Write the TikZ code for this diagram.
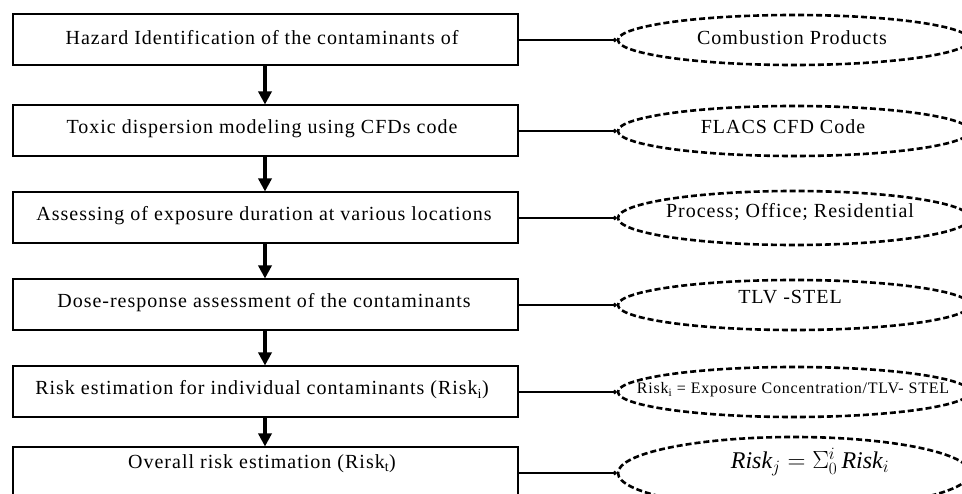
\documentclass[tikz,border=0pt]{standalone}
\usepackage{fontspec}
\setmainfont{Liberation Serif}
\newfontfamily\widefont[LetterSpace=5]{Liberation Serif}
\usetikzlibrary{arrows.meta,shapes.geometric}
\begin{document}
\begin{tikzpicture}[x=1pt,y=-1pt,
  stepbox/.style={draw,line width=2pt,minimum width=505pt,minimum height=51pt,inner sep=0pt},
  btext/.style={font=\widefont\fontsize{20}{22}\selectfont,inner sep=0pt},
  oval/.style={draw,ellipse,dashed,line width=2.6pt,dash pattern=on 6pt off 3pt,minimum width=352pt,minimum height=50pt,inner sep=0pt},
  otext/.style={font=\widefont\fontsize{20}{22}\selectfont,inner sep=0pt},
  flow/.style={line width=3.2pt,-{Triangle[length=13pt,width=13pt]}},
  link/.style={line width=2pt,-{Circle[length=4pt,width=4pt]}}
]
\useasboundingbox (0,0) rectangle (962,494);
% boxes
\node[stepbox] (b1) at (265,40) {};
\node[stepbox] (b2) at (265,131) {};
\node[stepbox] (b3) at (265,218) {};
\node[stepbox] (b4) at (265,305) {};
\node[stepbox] (b5) at (265,392) {};
\node[stepbox] (b6) at (265,473) {};
\node[btext] (t1) at (262,38) {Hazard Identification of the contaminants of};
\node[btext] (t2) at (262,129) {Toxic dispersion modeling using CFDs code};
\node[btext] (t3) at (264,216) {Assessing of exposure duration at various locations};
\node[btext] (t4) at (264,303) {Dose-response assessment of the contaminants};
\node[btext] (t5) at (262,390) {Risk estimation for individual contaminants (Risk\textsubscript{i})};
\node[btext] (t6) at (262,464) {Overall risk estimation (Risk\textsubscript{t})};
% ovals
\node[oval] (e1) at (794,40) {};
\node[oval] (e2) at (794,131) {};
\node[oval,minimum height=54pt] (e3) at (794,218) {};
\node[oval] (e4) at (794,305) {};
\node[oval] (e5) at (794,392) {};
\node[oval,minimum height=72pt] (e6) at (794,473) {};
\node[otext] (o1) at (792,38) {Combustion Products};
\node[otext] (o2) at (783,127) {FLACS CFD Code};
\node[otext] (o3) at (790,212) {Process; Office; Residential};
\node[otext] (o4) at (790,297) {TLV -STEL};
\node[otext,font=\widefont\fontsize{16}{18}\selectfont] (o5) at (793,390) {Risk\textsubscript{i} = Exposure Concentration/TLV- STEL};
\node[otext,font=\fontsize{24}{28}\selectfont] (o6) at (810,462) {$\mathit{Risk}_j = \Sigma_0^i\, \mathit{Risk}_i$};
% flow arrows
\draw[flow] (b1.south) -- (b2.north);
\draw[flow] (b2.south) -- (b3.north);
\draw[flow] (b3.south) -- (b4.north);
\draw[flow] (b4.south) -- (b5.north);
\draw[flow] (b5.south) -- (b6.north);
% links
\draw[link] (b1.east) -- (e1.west);
\draw[link] (b2.east) -- (e2.west);
\draw[link] (b3.east) -- (e3.west);
\draw[link] (b4.east) -- (e4.west);
\draw[link] (b5.east) -- (e5.west);
\draw[link] (b6.east) -- (e6.west);
\end{tikzpicture}
\end{document}
